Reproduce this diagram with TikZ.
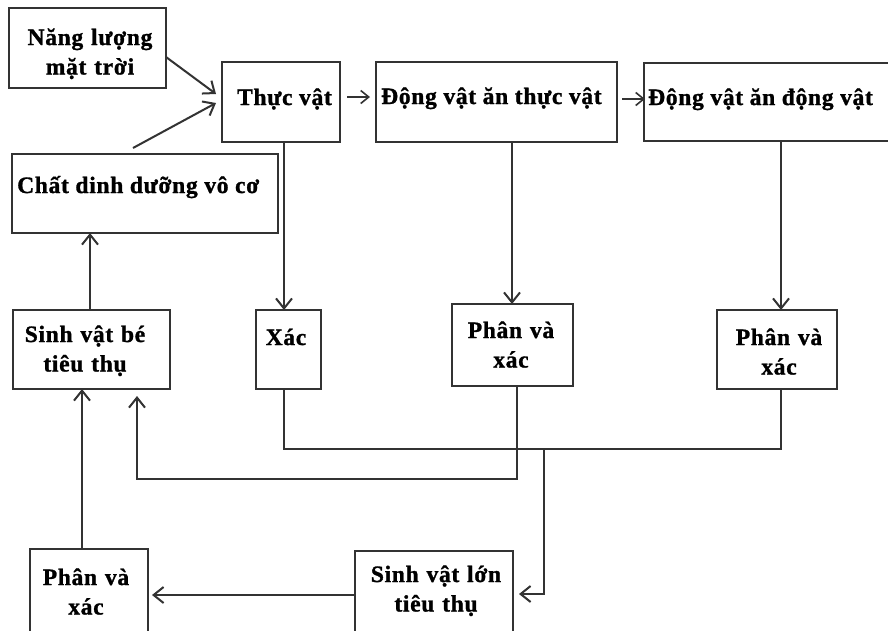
\documentclass[tikz,border=0pt]{standalone}
\usepackage{fontspec}
\setmainfont{Liberation Serif}[LetterSpace=3, BoldFeatures={FakeBold=1.2}]
\usetikzlibrary{arrows.meta,calc}

\definecolor{ink}{HTML}{333333}

\tikzset{
  box/.style={draw=ink, line width=2.2pt, anchor=north west, inner sep=0pt, outer sep=0pt},
  lbl/.style={font=\fontsize{23.5}{29.5}\selectfont\bfseries, inner sep=0pt, text=black},
  lbltwo/.style={lbl, text width=170pt, align=center, anchor=base},
  link/.style={draw=ink, line width=2pt},
  arr/.style={link, -{Straight Barb[length=10pt,width=16pt]}},
  tinyarr/.style={draw=ink, line width=1.6pt, -{Straight Barb[length=8pt,width=13pt]}},
}

\begin{document}
\begin{tikzpicture}[x=1pt,y=-1pt]
\useasboundingbox (0,0) rectangle (888,630);
\clip (0,0) rectangle (888,630);
\fill[white] (0,0) rectangle (888,630);

% ---- boxes ----
\node[box, minimum width=157pt, minimum height=80pt] (sun)    at (9,8)     {};
\node[box, minimum width=118pt, minimum height=80pt] (plant)  at (222,62)  {};
\node[box, minimum width=241pt, minimum height=80pt] (herb)   at (376,62)  {};
\node[box, minimum width=260pt, minimum height=78pt] (carn)   at (644,63)  {};
\node[box, minimum width=266pt, minimum height=79pt] (nut)    at (12,154)  {};
\node[box, minimum width=157pt, minimum height=79pt] (small)  at (13,310)  {};
\node[box, minimum width=65pt,  minimum height=79pt] (corpse) at (256,310) {};
\node[box, minimum width=121pt, minimum height=82pt] (waste1) at (452,304) {};
\node[box, minimum width=120pt, minimum height=79pt] (waste2) at (717,310) {};
\node[box, minimum width=118pt, minimum height=90pt] (waste3) at (30,549)  {};
\node[box, minimum width=158pt, minimum height=90pt] (big)    at (355,551) {};

% ---- labels ----
\node[lbltwo] (sunT) at (90,45) {Năng lượng\\mặt trời};
\node[lbl, anchor=base] (plantT) at (284.5,105) {Thực vật};
\node[lbl, anchor=base west] (herbT) at (381,104) {Động vật ăn thực vật};
\node[lbl, anchor=base west] (carnT) at (648,105) {Động vật ăn động vật};
\node[lbl, anchor=base west] (nutT) at (17,193) {Chất dinh dưỡng vô cơ};
\node[lbltwo] (smallT) at (85,342) {Sinh vật bé\\tiêu thụ};
\node[lbl, anchor=base] (corpseT) at (286,345) {Xác};
\node[lbltwo] (waste1T) at (511,338) {Phân và\\xác};
\node[lbltwo] (waste2T) at (779,345) {Phân và\\xác};
\node[lbltwo] (waste3T) at (86,585) {Phân và\\xác};
\node[lbltwo] (bigT) at (436,582) {Sinh vật lớn\\tiêu thụ};

% ---- helper points on the boxes ----
\coordinate (xc)  at ($(corpse.north west)+(28,0)$);
\coordinate (xw1) at ($(waste1.north west)+(60,0)$);
\coordinate (xw1b) at ($(waste1.south west)+(65,0)$);
\coordinate (xw2) at ($(waste2.north west)+(64,0)$);
\coordinate (j)   at ($(waste1.south east)+(-29,63)$);
\coordinate (xw3) at ($(waste3.north west)+(52,0)$);
\coordinate (xs)  at ($(small.north west)+(77,0)$);

% ---- connectors ----
\draw[arr] ($(sun.north east)+(0,49)$) -- ($(plant.north west)+(-6,32)$);
\draw[arr] ($(nut.north west)+(121,-6)$) -- ($(plant.north west)+(-6,41)$);
\draw[tinyarr] ($(plant.north east)+(7,35)$) -- ($(herb.north west)+(-6,35)$);
\draw[tinyarr] ($(herb.north east)+(5,37)$) -- ($(carn.north west)+(1,36)$);

\draw[arr] (xc |- plant.south) -- (xc);
\draw[arr] (xw1 |- herb.south) -- (xw1);
\draw[arr] (xw2 |- carn.south) -- (xw2);

\draw[link] (xc |- corpse.south) -- ++(0,60) -| (xw2 |- waste2.south);
\draw[arr] (j) |- ($(big.east)+(6,-2)$);
\draw[arr] (xw1b) -- ++(0,93) -| ($(small.south west)+(124,7)$);
\draw[arr] ($(big.west)+(0,-1)$) -- ($(big.west -| waste3.east)+(4,-1)$);
\draw[arr] (xw3) -- (xw3 |- small.south);
\draw[arr] (xs) -- (xs |- nut.south);
\end{tikzpicture}
\end{document}
